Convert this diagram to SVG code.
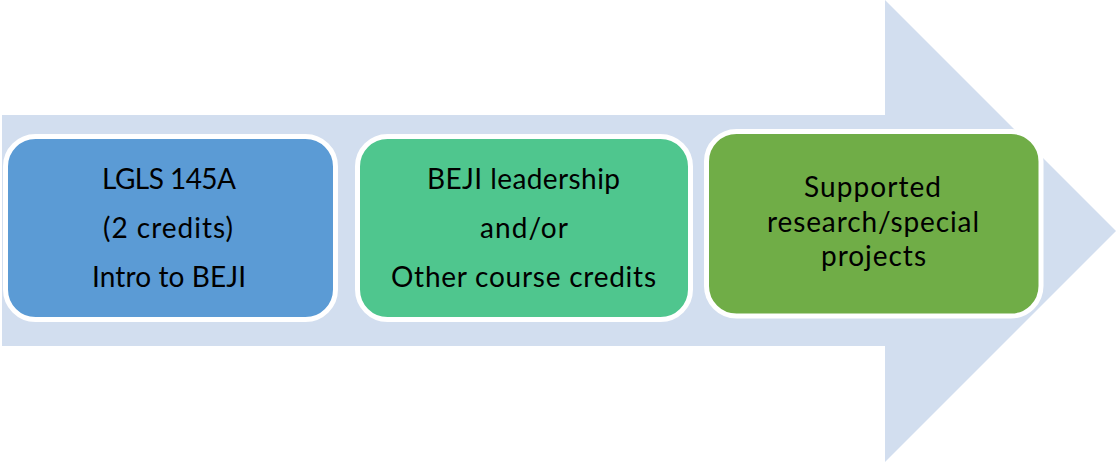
<svg xmlns="http://www.w3.org/2000/svg" width="1116" height="462" viewBox="0 0 1116 462">
<style>
.box{stroke:#FFFFFF;stroke-width:5}
.t{font-family:Lato,"Open Sans","Liberation Sans",sans-serif;font-size:28px;fill:#000000;text-anchor:middle}
</style>
<rect width="1116" height="462" fill="#FFFFFF"/>
<g id="arrow">
<polygon points="2,115 885,115 885,0 1116,231 885,462 885,346 2,346" fill="#D2DEEF"/>
</g>
<g id="node1">
<rect class="box" x="5.5" y="136.5" width="330" height="183" rx="30" fill="#5B9BD5"/>
<text class="t" x="169" y="189" textLength="134">LGLS 145A</text>
<text class="t" x="168" y="238" textLength="130">(2 credits)</text>
<text class="t" x="169" y="287" textLength="154">Intro to BEJI</text>
</g>
<g id="node2">
<rect class="box" x="357.5" y="136.5" width="333" height="183" rx="30" fill="#4FC68E"/>
<text class="t" x="523.5" y="189" textLength="193">BEJI leadership</text>
<text class="t" x="524" y="238" textLength="88">and/or</text>
<text class="t" x="523.5" y="287" textLength="265">Other course credits</text>
</g>
<g id="node3">
<rect class="box" x="706.5" y="131.5" width="334.5" height="184.5" rx="30" fill="#70AD47"/>
<text class="t" x="872.5" y="197" textLength="137">Supported</text>
<text class="t" x="873" y="232" textLength="212">research/special</text>
<text class="t" x="873.5" y="266" textLength="105">projects</text>
</g>
<g id="connectors"></g>
</svg>
